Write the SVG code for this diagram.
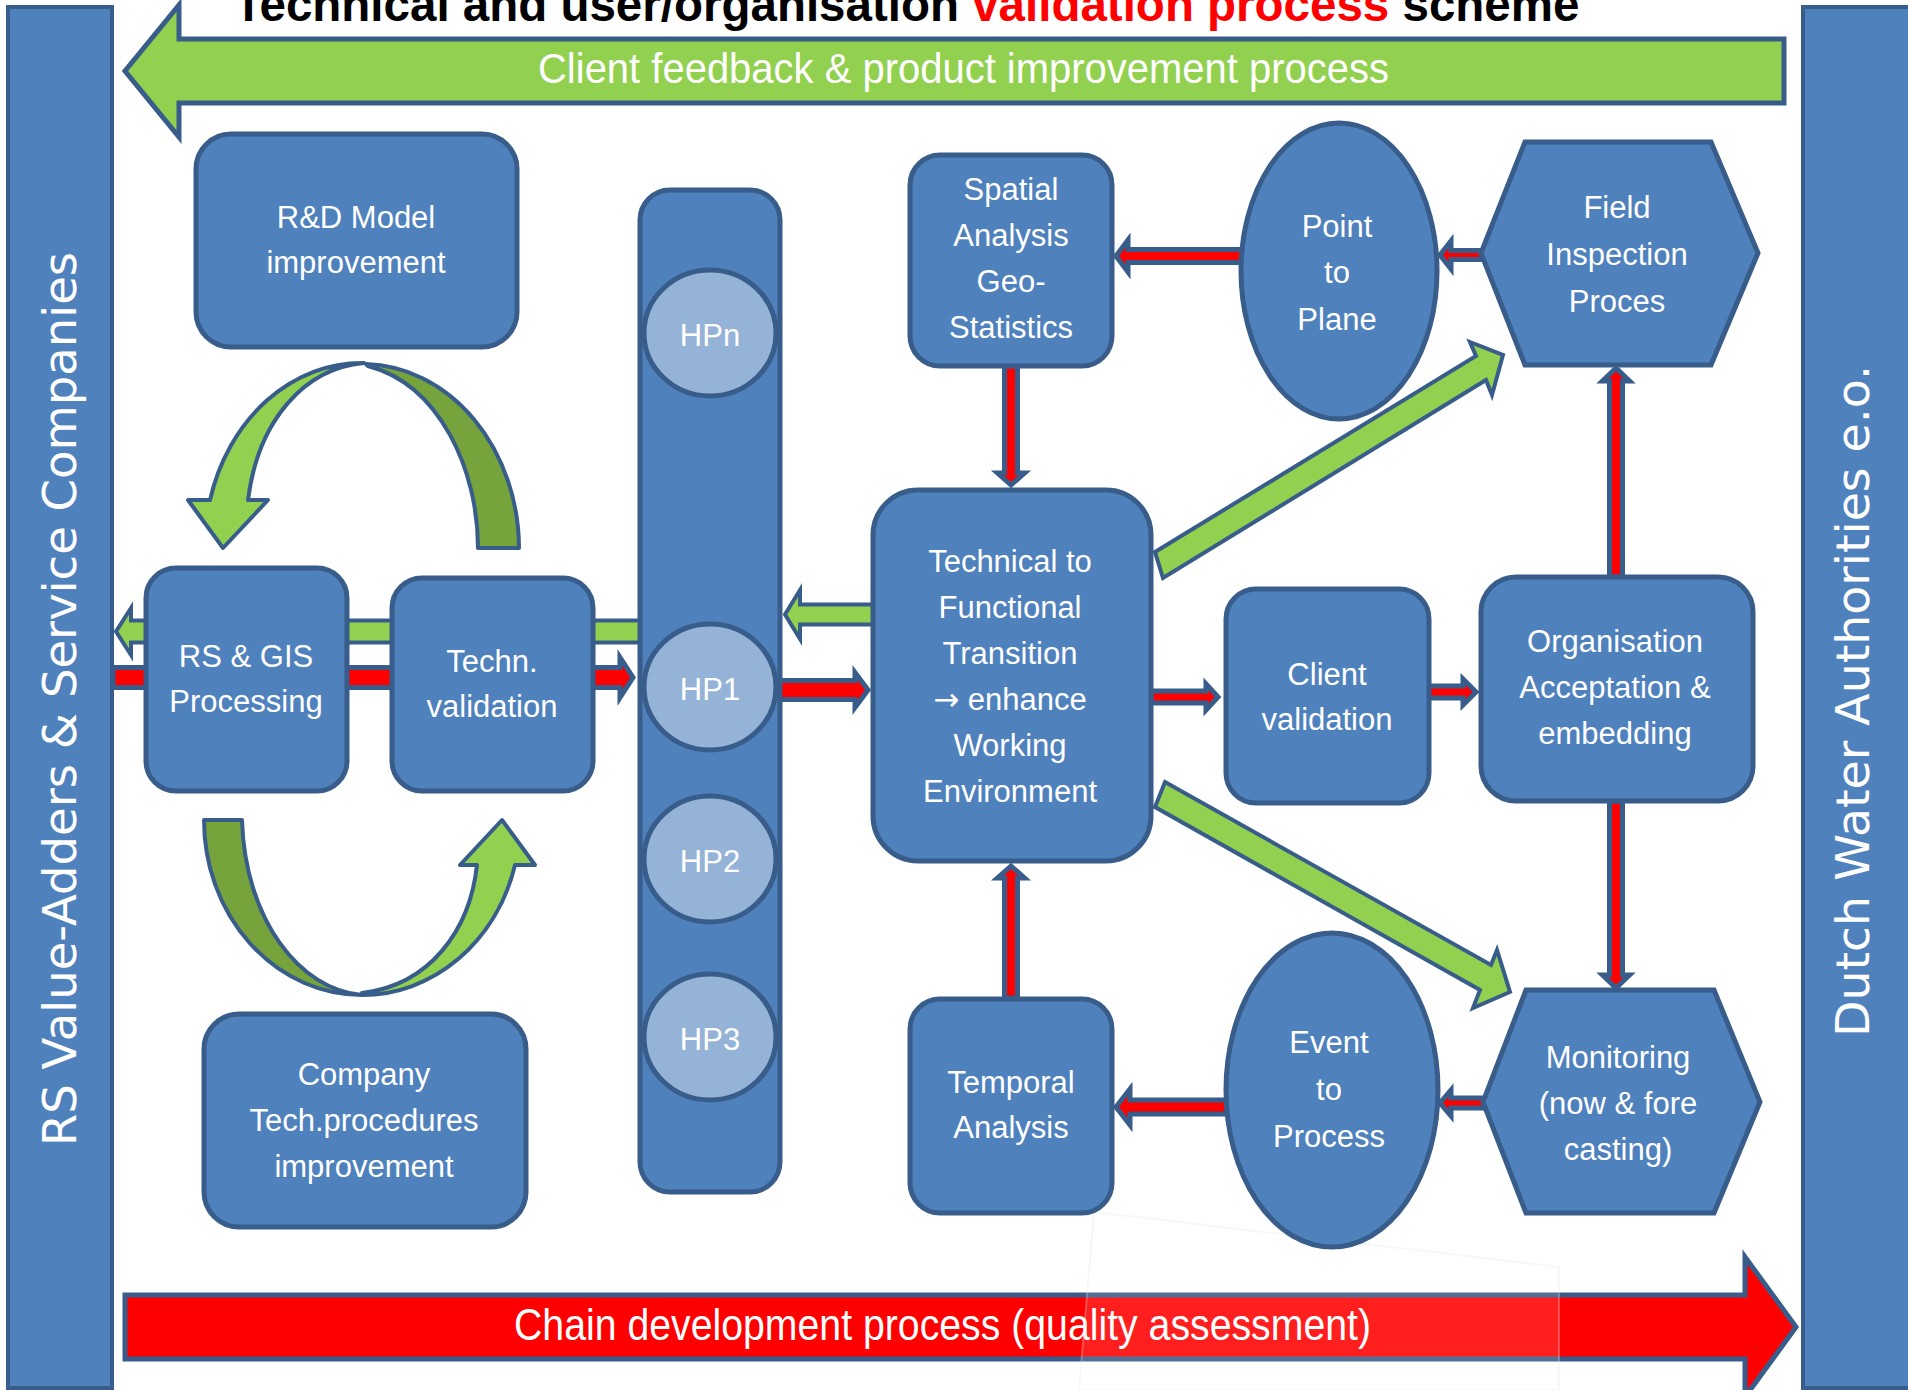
<svg xmlns="http://www.w3.org/2000/svg" width="1908" height="1390" viewBox="0 0 1908 1390">
<style>
.box{fill:#4F81BD;stroke:#385D8A;stroke-width:5}
.hp{fill:#95B3D7;stroke:#385D8A;stroke-width:5}
.lbl{font-family:"Liberation Sans",Arial,sans-serif;font-size:31px;fill:#fff;text-anchor:middle}
.red{fill:#FF0000;stroke:#385D8A;stroke-width:5;stroke-linejoin:miter}
.grn{fill:#92D050;stroke:#385D8A;stroke-width:4;stroke-linejoin:miter}
.dgrn{fill:#77A33D;stroke:#385D8A;stroke-width:4;stroke-linejoin:round}
.lgrn{fill:#92D050;stroke:#385D8A;stroke-width:4;stroke-linejoin:round}
.side{font-family:"DejaVu Sans",sans-serif;font-size:46px;fill:#fff}
.banner{font-family:"Liberation Sans",Arial,sans-serif;fill:#fff}
</style>
<rect width="1908" height="1390" fill="#fff"/>

<g id="left-bar">
<rect class="box" x="8" y="7" width="104" height="1381" style="stroke-width:4"/>
<text class="side" transform="translate(76,1146) rotate(-90)" textLength="894" lengthAdjust="spacingAndGlyphs">RS Value-Adders &amp; Service Companies</text>
</g>
<g id="right-bar">
<rect class="box" x="1803" y="7" width="130" height="1381" style="stroke-width:4"/>
<text class="side" transform="translate(1869,1037) rotate(-90)" textLength="672" lengthAdjust="spacingAndGlyphs">Dutch Water Authorities e.o.</text>
</g>

<g id="title">
<text x="234" y="21" font-family="Liberation Sans,Arial,sans-serif" font-size="47.5" font-weight="bold" fill="#000">Technical and user/organisation <tspan fill="#FF0000">validation process</tspan> scheme</text>
</g>

<g id="feedback-arrow">
<polygon class="grn" style="stroke-width:5" points="179,39 1784,39 1784,103 179,103 179,137 125,71 179,5"/>
<text class="banner" x="538" y="83" font-size="42" textLength="851" lengthAdjust="spacingAndGlyphs">Client feedback &amp; product improvement process</text>
</g>

<g id="chain-arrow">
<polygon class="red" points="125,1295 1745,1295 1745,1257 1796,1327 1745,1397 1745,1359 125,1359"/>
<text class="banner" x="514" y="1340" font-size="44" textLength="857" lengthAdjust="spacingAndGlyphs">Chain development process (quality assessment)</text>
<polygon points="1094,1212 1559,1267 1559,1390 1079,1390" fill="#fff" fill-opacity="0.12" stroke="#e4e4e4" stroke-opacity="0.3" stroke-width="2"/>
</g>

<g id="connectors">
<path class="red" d="M113,667.5 L620,667.5 L620,657.5 L633,677.5 L620,697.5 L620,687.5 L113,687.5 Z"/>
<path class="grn" d="M640,620.5 L131,620.5 L131,608 L116,631.5 L131,655 L131,642.5 L640,642.5 Z"/>
<path class="lgrn" d="M210,500 A157 185 0 0 1 364,363 C305,368 258,420 248,500 L268,500 L223,548 L188,500 Z"/>
<path class="dgrn" d="M366,364 A157 185 0 0 1 519,548 L478,548 C478,470 440,385 368,366 Z"/>
<path class="dgrn" d="M204,820 A158 175 0 0 0 362,995 C300,990 245,920 242,820 Z"/>
<path class="lgrn" d="M362,995 A158 175 0 0 0 515,865 L535,865 L502,820 L460,865 L477,865 C470,930 430,985 362,993 Z"/>
<path class="grn" d="M875,604.5 L800,604.5 L800,590 L785,614.5 L800,639 L800,624.5 L875,624.5 Z"/>
<path class="red" d="M778,680.5 L855,680.5 L855,672.5 L868,690 L855,707.5 L855,699.5 L778,699.5 Z"/>
<path class="red" d="M1151,691 L1206,691 L1206,684 L1218,697 L1206,710 L1206,703 L1151,703 Z"/>
<path class="red" d="M1428,686 L1463,686 L1463,679 L1476,692 L1463,705 L1463,698 L1428,698 Z"/>
<path class="red" d="M1004.5,366 L1004.5,473 L997.5,473 L1011,485 L1024.5,473 L1017.5,473 L1017.5,366 Z"/>
<path class="red" d="M1004.5,998 L1004.5,878 L997.5,878 L1011,866 L1024.5,878 L1017.5,878 L1017.5,998 Z"/>
<path class="red" d="M1609.5,577 L1609.5,381 L1602.5,381 L1616,368 L1629.5,381 L1622.5,381 L1622.5,577 Z"/>
<path class="red" d="M1609.5,801 L1609.5,975 L1602.5,975 L1616,988 L1629.5,975 L1622.5,975 L1622.5,801 Z"/>
<path class="red" d="M1243,249.5 L1128,249.5 L1128,240 L1116,256 L1128,272 L1128,262.5 L1243,262.5 Z"/>
<path class="red" d="M1482,250.5 L1451,250.5 L1451,241 L1440,255 L1451,269 L1451,259.5 L1482,259.5 Z"/>
<path class="red" d="M1227,1100 L1130,1100 L1130,1089 L1116,1107 L1130,1125 L1130,1114 L1227,1114 Z"/>
<path class="red" d="M1484,1098 L1451,1098 L1451,1090 L1440,1103 L1451,1116 L1451,1108 L1484,1108 Z"/>
<polygon class="grn" points="1155,552 1476,356 1470,342 1503,355 1492,395 1486,380 1163,578"/>
<polygon class="grn" points="1165,782 1491,965 1497,950 1510,992 1473,1008 1480,990 1155,807"/>
</g>

<g id="rd-model">
<rect class="box" x="196" y="134" width="321" height="213" rx="35"/>
<text class="lbl" x="356" y="228">R&amp;D Model</text>
<text class="lbl" x="356" y="273">improvement</text>
</g>
<g id="rs-gis">
<rect class="box" x="146" y="568" width="201" height="223" rx="30"/>
<text class="lbl" x="246" y="667">RS &amp; GIS</text>
<text class="lbl" x="246" y="712">Processing</text>
</g>
<g id="techn-validation">
<rect class="box" x="392" y="578" width="201" height="213" rx="30"/>
<text class="lbl" x="492" y="672">Techn.</text>
<text class="lbl" x="492" y="717">validation</text>
</g>
<g id="company">
<rect class="box" x="204" y="1014" width="322" height="213" rx="35"/>
<text class="lbl" x="364" y="1085">Company</text>
<text class="lbl" x="364" y="1131">Tech.procedures</text>
<text class="lbl" x="364" y="1177">improvement</text>
</g>

<g id="hp-column">
<rect class="box" x="640" y="190" width="140" height="1002" rx="30"/>
</g>
<g id="hpn">
<ellipse class="hp" cx="710" cy="333" rx="66" ry="63"/>
<text class="lbl" x="710" y="346">HPn</text>
</g>
<g id="hp1">
<ellipse class="hp" cx="710" cy="687" rx="66" ry="63"/>
<text class="lbl" x="710" y="700">HP1</text>
</g>
<g id="hp2">
<ellipse class="hp" cx="710" cy="859" rx="66" ry="63"/>
<text class="lbl" x="710" y="872">HP2</text>
</g>
<g id="hp3">
<ellipse class="hp" cx="710" cy="1037" rx="66" ry="63"/>
<text class="lbl" x="710" y="1050">HP3</text>
</g>

<g id="spatial">
<rect class="box" x="910" y="155" width="202" height="211" rx="30"/>
<text class="lbl" x="1011" y="200">Spatial</text>
<text class="lbl" x="1011" y="246">Analysis</text>
<text class="lbl" x="1011" y="292">Geo-</text>
<text class="lbl" x="1011" y="338">Statistics</text>
</g>
<g id="point-to-plane">
<ellipse class="box" cx="1339" cy="271" rx="98" ry="148"/>
<text class="lbl" x="1337" y="237">Point</text>
<text class="lbl" x="1337" y="283">to</text>
<text class="lbl" x="1337" y="330">Plane</text>
</g>
<g id="field-inspection">
<polygon class="box" points="1525,142 1711,142 1758,253 1711,365 1525,365 1481,253"/>
<text class="lbl" x="1617" y="218">Field</text>
<text class="lbl" x="1617" y="265">Inspection</text>
<text class="lbl" x="1617" y="312">Proces</text>
</g>
<g id="tech-to-functional">
<rect class="box" x="873" y="490" width="278" height="371" rx="45"/>
<text class="lbl" x="1010" y="572">Technical to</text>
<text class="lbl" x="1010" y="618">Functional</text>
<text class="lbl" x="1010" y="664">Transition</text>
<text class="lbl" x="1010" y="710"><tspan font-family="DejaVu Sans,sans-serif">→</tspan> enhance</text>
<text class="lbl" x="1010" y="756">Working</text>
<text class="lbl" x="1010" y="802">Environment</text>
</g>
<g id="client-validation">
<rect class="box" x="1226" y="589" width="203" height="214" rx="30"/>
<text class="lbl" x="1327" y="685">Client</text>
<text class="lbl" x="1327" y="730">validation</text>
</g>
<g id="organisation">
<rect class="box" x="1481" y="577" width="272" height="224" rx="35"/>
<text class="lbl" x="1615" y="652">Organisation</text>
<text class="lbl" x="1615" y="698">Acceptation &amp;</text>
<text class="lbl" x="1615" y="744">embedding</text>
</g>
<g id="temporal">
<rect class="box" x="910" y="999" width="202" height="214" rx="30"/>
<text class="lbl" x="1011" y="1093">Temporal</text>
<text class="lbl" x="1011" y="1138">Analysis</text>
</g>
<g id="event-to-process">
<ellipse class="box" cx="1332" cy="1090" rx="106" ry="157"/>
<text class="lbl" x="1329" y="1053">Event</text>
<text class="lbl" x="1329" y="1100">to</text>
<text class="lbl" x="1329" y="1147">Process</text>
</g>
<g id="monitoring">
<polygon class="box" points="1526,990 1714,990 1760,1102 1714,1213 1526,1213 1483,1102"/>
<text class="lbl" x="1618" y="1068">Monitoring</text>
<text class="lbl" x="1618" y="1114">(now &amp; fore</text>
<text class="lbl" x="1618" y="1160">casting)</text>
</g>
</svg>
